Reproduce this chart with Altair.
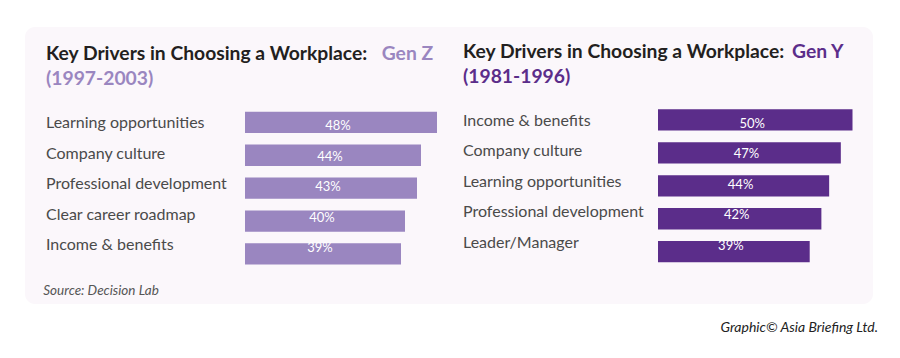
import altair as alt
import pandas as pd

# ---- data ----
genz_cats = ["Learning opportunities", "Company culture", "Professional development",
             "Clear career roadmap", "Income & benefits"]
genz_vals = [48, 44, 43, 40, 39]
geny_cats = ["Income & benefits", "Company culture", "Learning opportunities",
             "Professional development", "Leader/Manager"]
geny_vals = [50, 47, 44, 42, 39]

title_main = "Key Drivers in Choosing a Workplace:"
genz_tag = "Gen Z"
genz_years = "(1997-2003)"
geny_tag = "Gen Y"
geny_years = "(1981-1996)"
source_text = "Source: Decision Lab"
credit_text = "Graphic\u00a9 Asia Briefing Ltd."

COL_Z = "#9a86c0"
COL_Y = "#5b2d8a"
TXT = "#4a4a4a"
FONT = "Lato"

dz = pd.DataFrame({"cat": genz_cats, "value": genz_vals})
dz["label"] = dz["value"].astype(str) + "%"
dy_ = pd.DataFrame({"cat": geny_cats, "value": geny_vals})
dy_["label"] = dy_["value"].astype(str) + "%"

one = alt.Data(values=[{"a": 1}])

# scales
xz = alt.Scale(domain=[0, 50], range=[237, 437])
yz = alt.Scale(domain=genz_cats, range=[103.7, 256.6], paddingInner=0.353, paddingOuter=0)
xy = alt.Scale(domain=[0, 50], range=[650, 844.5])
yy = alt.Scale(domain=geny_cats, range=[101.3, 254.3], paddingInner=0.353, paddingOuter=0)

panel = alt.Chart(one).mark_rect(color="#fbf7fb", cornerRadius=10).encode(
    x=alt.value(17), x2=alt.value(865), y=alt.value(19), y2=alt.value(296)
)

def bars(df, xs, ys, color):
    return alt.Chart(df).mark_bar(color=color).encode(
        x=alt.X("value:Q", scale=xs, axis=None),
        x2=alt.datum(0),
        y=alt.Y("cat:N", scale=ys, axis=None, sort=None),
    )

def pct(df, xs, ys):
    return alt.Chart(df).transform_calculate(mid="datum.value/2").mark_text(
        color="white", font=FONT, fontSize=13, align="center", baseline="middle", dx=-3, dy=-1
    ).encode(
        x=alt.X("mid:Q", scale=xs, axis=None),
        y=alt.Y("cat:N", scale=ys, axis=None, sort=None),
        text="label:N",
    )

def labels(df, ys, xpos):
    return alt.Chart(df).mark_text(
        color=TXT, font=FONT, fontSize=16, align="left", baseline="middle", dy=-4
    ).encode(
        x=alt.value(xpos),
        y=alt.Y("cat:N", scale=ys, axis=None, sort=None),
        text="cat:N",
    )

def txt(s, x, y, color, size=19.3, weight="bold", style="normal", align="left"):
    return alt.Chart(one).mark_text(
        text=s, color=color, font=FONT, fontSize=size, fontWeight=weight,
        fontStyle=style, align=align, baseline="alphabetic"
    ).encode(x=alt.value(x), y=alt.value(y))

layers = [
    panel,
    bars(dz, xz, yz, COL_Z), pct(dz, xz, yz), labels(dz, yz, 38),
    bars(dy_, xy, yy, COL_Y), pct(dy_, xy, yy), labels(dy_, yy, 455),
    txt(title_main, 38, 52, "#231f20"),
    txt(genz_tag, 373.7, 52, COL_Z),
    txt(genz_years, 38, 77, COL_Z),
    txt(title_main, 455, 50.3, "#231f20"),
    txt(geny_tag, 784, 50.3, COL_Y),
    txt(geny_years, 455, 75.3, COL_Y),
    txt(source_text, 35.3, 286.5, "#555555", size=13.5, weight="normal", style="italic"),
    txt(credit_text, 870, 324, "#222222", size=14, weight="normal", style="italic", align="right"),
]

chart = alt.layer(*layers).resolve_scale(x="independent", y="independent").properties(
    width=884, height=342, autosize=alt.AutoSizeParams(type="none"), padding=0,
    background="white",
).configure_view(stroke=None)

chart.save("out.html", embed_options={"renderer": "svg", "actions": False})
